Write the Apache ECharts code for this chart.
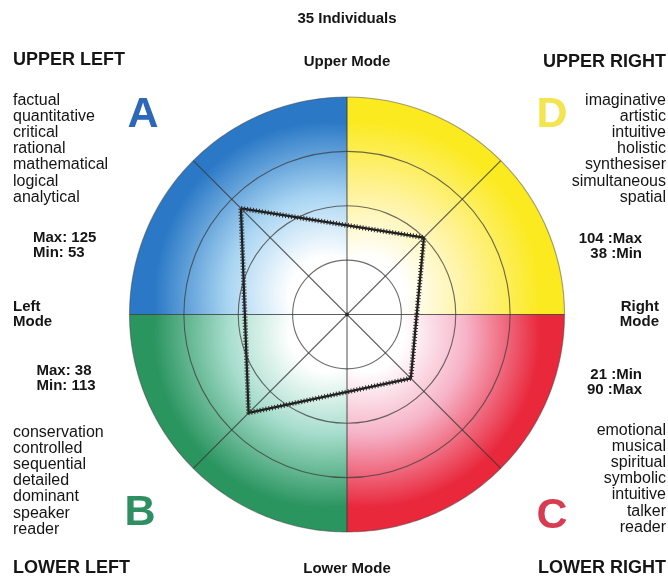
<!DOCTYPE html>
<html>
<head>
<meta charset="utf-8">
<title>35 Individuals - thinking preference profile</title>
<script src="https://cdn.jsdelivr.net/npm/echarts@6/dist/echarts.min.js"></script>
<style>
  html, body { margin: 0; padding: 0; background: #fff; }
  #chart { width: 668px; height: 578px; }
</style>
</head>
<body>
<div id="chart"></div>
<script>
// quadrant order: upper left (A), upper right (D), lower right (C), lower left (B)
const quadrantLetters = ["A", "D", "C", "B"];
const quadrantDirections = [135, 45, -45, -135]; // degrees, middle of each quadrant
const quadrantColors = ["#2a78c6", "#fbea1f", "#e9283c", "#2b9560"];
const quadrantTints = ["#a9d5f2", "#fff3a0", "#f6b3c8", "#a6ddcc"];
const letterColors = ["#2c67b8", "#f2e550", "#d73c52", "#2e8f62"];

// group profile, scores along each diagonal (outer edge of the disc = 200)
const profileScores = [138, 100, 83, 128];
const ringLevels = [50, 100, 150];
const spokeAngles = [90, 270, 0, 180, 45, 135, 225, 315];

const upperLeftWords = ["factual", "quantitative", "critical", "rational", "mathematical", "logical", "analytical"];
const upperRightWords = ["imaginative", "artistic", "intuitive", "holistic", "synthesiser", "simultaneous", "spatial"];
const lowerLeftWords = ["conservation", "controlled", "sequential", "detailed", "dominant", "speaker", "reader"];
const lowerRightWords = ["emotional", "musical", "spiritual", "symbolic", "intuitive", "talker", "reader"];

const upperLeftRange = ["Max: 125", "Min: 53"];
const lowerLeftRange = ["Max: 38", "Min: 113"];
const upperRightRange = ["104 :Max", "38 :Min"];
const lowerRightRange = ["21 :Min", "90 :Max"];

const DISC_R = 200; // outer edge of the disc, score units
const FONT = "'Liberation Sans', Arial, Helvetica, sans-serif";

function discPoint(deg, r) {
  const t = deg * Math.PI / 180;
  return [r * Math.cos(t), r * Math.sin(t)];
}

function renderQuadrant(params, api) {
  const i = params.dataIndex;
  const mid = quadrantDirections[i];
  const pts = [api.coord([0, 0])];
  for (let d = mid - 45; d <= mid + 45 + 1e-6; d += 1) {
    pts.push(api.coord(discPoint(d, DISC_R)));
  }
  const c = api.coord(discPoint(mid, 25));
  const r = api.size([205, 0])[0];
  return {
    type: "polygon",
    shape: { points: pts },
    style: {
      fill: {
        type: "radial", x: c[0], y: c[1], r: r, global: true,
        colorStops: [
          { offset: 0, color: "#ffffff" },
          { offset: 0.17, color: "#ffffff" },
          { offset: 0.45, color: quadrantTints[i] },
          { offset: 0.78, color: quadrantColors[i] },
          { offset: 1, color: quadrantColors[i] },
        ],
      },
      stroke: null,
    },
  };
}

function renderRing(params, api) {
  const c = api.coord([0, 0]);
  const r = api.size([api.value(0), 0])[0];
  return {
    type: "circle",
    shape: { cx: c[0], cy: c[1], r: r },
    style: { fill: "transparent", stroke: api.value(1) ? "rgba(70,70,70,0.5)" : "rgba(60,60,60,0.75)", lineWidth: 1.1 },
  };
}

function renderSpoke(params, api) {
  const c = api.coord([0, 0]);
  const e = api.coord(discPoint(api.value(0), DISC_R));
  return {
    type: "line",
    shape: { x1: c[0], y1: c[1], x2: e[0], y2: e[1] },
    style: { stroke: "rgba(55,55,55,0.8)", lineWidth: 1.1 },
  };
}

const profilePoints = profileScores.map((v, i) => discPoint(quadrantDirections[i], v));
profilePoints.push(profilePoints[0]);

function textBlock(lines, x, y, size, bold, align) {
  return {
    type: "text", x: x, y: y, z: 10,
    style: {
      text: lines.join("\n"),
      font: (bold ? "bold " : "") + size + "px " + FONT,
      fill: "#151515",
      lineHeight: bold ? 15 : 16.2,
      textAlign: align, align: align,
      textVerticalAlign: "top", verticalAlign: "top",
    },
  };
}

function heading(text, x, y, size, align) {
  return {
    type: "text", x: x, y: y, z: 10,
    style: {
      text: text, font: "bold " + size + "px " + FONT, fill: "#151515",
      textAlign: align, align: align,
      textVerticalAlign: "middle", verticalAlign: "middle",
    },
  };
}

function letter(i, x, y) {
  return {
    type: "text", x: x, y: y, z: 10,
    style: {
      text: quadrantLetters[i], font: "bold 43px " + FONT, fill: letterColors[i],
      textAlign: "center", align: "center",
      textVerticalAlign: "middle", verticalAlign: "middle",
    },
  };
}

const chart = echarts.init(document.getElementById("chart"), null, { renderer: "canvas" });

chart.setOption({
  animation: false,
  backgroundColor: "#ffffff",
  grid: { left: 129.5, top: 97, width: 435, height: 435 },
  xAxis: { type: "value", min: -200, max: 200, show: false },
  yAxis: { type: "value", min: -200, max: 200, show: false },
  series: [
    {
      type: "custom", name: "quadrants", z: 1, silent: true,
      renderItem: renderQuadrant,
      data: quadrantLetters.map((q, i) => [i, 0]),
    },
    {
      type: "custom", name: "rings", z: 3, silent: true,
      renderItem: renderRing,
      // last entry is the faint outline of the disc
      data: ringLevels.map((v) => [v, 0]).concat([[DISC_R, 1]]),
    },
    {
      type: "custom", name: "spokes", z: 3, silent: true,
      renderItem: renderSpoke,
      data: spokeAngles.map((a) => [a, 0]),
    },
    {
      type: "scatter", name: "centre", z: 4, silent: true,
      symbolSize: 4, itemStyle: { color: "#222" },
      data: [[0, 0]],
    },
    {
      type: "line", name: "profile", z: 5, silent: true,
      symbol: "none",
      lineStyle: { color: "#1b1b1b", width: 2.2 },
      data: profilePoints,
    },
    {
      type: "line", name: "profile ticks", z: 5, silent: true,
      symbol: "none",
      lineStyle: { color: "#2a2a2a", width: 5, type: [1, 2] },
      data: profilePoints,
    },
  ],
  graphic: [
    heading("35 Individuals", 347, 19, 15, "center"),
    heading("UPPER LEFT", 13, 60, 18, "left"),
    heading("Upper Mode", 347, 62, 15, "center"),
    heading("UPPER RIGHT", 666, 62, 18, "right"),
    heading("LOWER LEFT", 13, 568, 18, "left"),
    heading("Lower Mode", 347, 569, 15, "center"),
    heading("LOWER RIGHT", 666, 568, 18, "right"),
    textBlock(upperLeftWords, 13, 92, 16, false, "left"),
    textBlock(upperRightWords, 666, 92, 16, false, "right"),
    textBlock(lowerLeftWords, 13, 424, 16, false, "left"),
    textBlock(lowerRightWords, 666, 422, 16, false, "right"),
    textBlock(upperLeftRange, 33, 230.5, 15, true, "left"),
    textBlock(["Left", "Mode"], 13, 299.5, 15, true, "left"),
    textBlock(lowerLeftRange, 36.5, 363.5, 15, true, "left"),
    textBlock(upperRightRange, 642, 231, 15, true, "right"),
    textBlock(["Right", "Mode"], 659, 299.5, 15, true, "right"),
    textBlock(lowerRightRange, 642, 367, 15, true, "right"),
    letter(0, 143, 115),
    letter(1, 552, 115),
    letter(2, 552, 516),
    letter(3, 140, 513),
  ],
});
</script>
</body>
</html>
